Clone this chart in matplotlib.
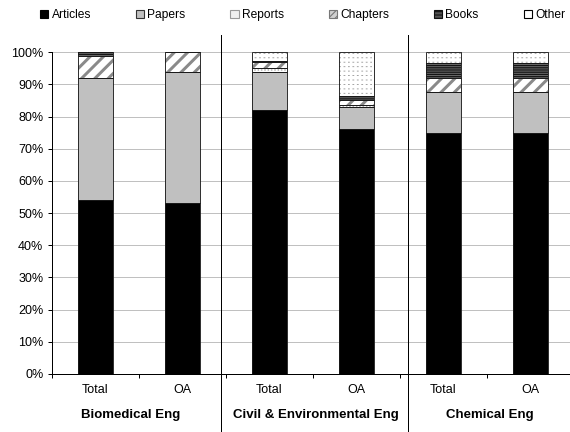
import numpy as np
import matplotlib.pyplot as plt
from matplotlib.patches import Patch
from matplotlib.transforms import blended_transform_factory

# data (percent of output)
groups = ['Biomedical Eng', 'Civil & Environmental Eng', 'Chemical Eng']
cats = ['Total', 'OA', 'Total', 'OA', 'Total', 'OA']
articles = [54, 53, 82, 76.3, 75, 75]
papers = [38, 41, 12, 6.7, 12.7, 12.7]
reports = [0, 0, 1.0, 0.5, 0, 0]
chapters = [7, 6, 2, 1.8, 4.3, 4.3]
books = [1, 0, 0.3, 1.0, 4.8, 4.8]
other = [0, 0, 2.7, 13.7, 3.2, 3.2]
names = ['Articles', 'Papers', 'Reports', 'Chapters', 'Books', 'Other']

DPI = 80
FS = 11.3
plt.rcParams['font.family'] = ['Liberation Sans', 'DejaVu Sans']
plt.rcParams['font.size'] = FS

# face colour + hatch layers (pattern, colour, linewidth)
styles = [
    ('black', []),
    ('#c0c0c0', []),
    ('white', [('....', '#b0b0b0', 0.9)]),
    ('white', [('//', '#8a8a8a', 2.7)]),
    ('#6a6a6a', [('------', '#151515', 1.1)]),
    ('white', [('|||', '#9a9a9a', 1.6), ('---', 'white', 3.2)]),
]

fig = plt.figure(figsize=(570 / DPI, 432 / DPI), dpi=DPI)
ax = fig.add_axes([52 / 570, 58 / 432, 522 / 570, 321.7 / 432])

x = np.arange(len(cats))
w = 0.4
bottom = np.zeros(len(cats))
series = [articles, papers, reports, chapters, books, other]
for vals, (face, layers) in zip(series, styles):
    vals = np.array(vals, dtype=float)
    ax.bar(x, vals, w, bottom=bottom, color=face, linewidth=0, zorder=2)
    for hatch, hcol, hlw in layers:
        with plt.rc_context({'hatch.linewidth': hlw}):
            bars = ax.bar(x, vals, w, bottom=bottom, color='none', edgecolor=hcol,
                          linewidth=0, hatch=hatch, zorder=3)
        for b in bars:
            if hasattr(b, 'set_hatch_linewidth'):
                b.set_hatch_linewidth(hlw)
    ax.bar(x, vals, w, bottom=bottom, color='none', edgecolor='#1a1a1a',
           linewidth=0.8, zorder=4)
    bottom += vals

ax.set_xlim(-0.5, 5.5)
ax.set_ylim(0, 100)
ax.set_yticks(range(0, 101, 10))
ax.set_yticklabels([f'{v}%' for v in range(0, 101, 10)])
ax.set_axisbelow(True)
ax.yaxis.grid(True, color='#c0c0c0', linewidth=0.9)
for s in ['top', 'right']:
    ax.spines[s].set_visible(False)
for s in ['left', 'bottom']:
    ax.spines[s].set_linewidth(0.9)
ax.tick_params(axis='y', length=3.6, width=0.9, pad=4.2, direction='out')

ax.set_xticks(x)
ax.set_xticklabels(cats)
ax.set_xticks(np.arange(-0.5, 6, 1), minor=True)
ax.tick_params(axis='x', which='major', length=0, pad=9)
ax.tick_params(axis='x', which='minor', length=3.6, width=0.9, direction='out')

tr = blended_transform_factory(ax.transData, fig.transFigure)
for gx, g in zip([0.40, 2.53, 4.53], groups):
    ax.text(gx, 1 - 415 / 432, g, transform=tr, ha='center', va='center',
            fontweight='bold', fontsize=11.9)
for dx in [1.44, 3.59]:
    ax.plot([dx, dx], [0, 1 - 35 / 432], transform=tr, color='black',
            linewidth=0.9, clip_on=False)

handles = [
    Patch(facecolor='black', edgecolor='black'),
    Patch(facecolor='#c0c0c0', edgecolor='#333333'),
    Patch(facecolor='#f0f0f0', edgecolor='#999999'),
    Patch(facecolor='#d0d0d0', edgecolor='#777777', hatch='////'),
    Patch(facecolor='#555555', edgecolor='#111111', hatch='----'),
    Patch(facecolor='white', edgecolor='black'),
]
fig.legend(handles, names, ncol=6, loc='center', bbox_to_anchor=(0.531, 1 - 15 / 432),
           frameon=False, handlelength=0.7, handleheight=0.7, handletextpad=0.25,
           columnspacing=3.75, fontsize=10.8)

fig.savefig('out.png', dpi=DPI)
